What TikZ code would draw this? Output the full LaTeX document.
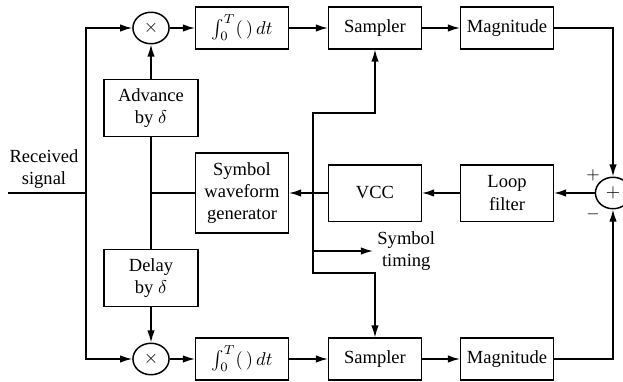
\documentclass[tikz,border=0pt]{standalone}
\usepackage{fontspec}
\setmainfont{Liberation Serif}
\usepackage{amsmath}
\usetikzlibrary{arrows.meta,shapes.geometric,positioning,calc}
\tikzset{
  blk/.style={draw, line width=0.8pt, align=center, minimum width=50pt, minimum height=30.5pt, inner sep=1pt},
  mult/.style={draw, ellipse, line width=0.8pt, minimum width=19.5pt, minimum height=17pt, inner sep=0pt},
  arr/.style={-{Latex[length=6.5pt,width=4pt]}},
  wire/.style={line width=0.8pt}
}

\begin{document}
\begin{tikzpicture}[x=0.54pt, y=-0.54pt, every node/.style={font=\normalsize}]
  \useasboundingbox (0,0) rectangle (623,381);
  % top branch
  \node[mult] (m1) at (151,28) {$\times$};
  \node[blk, minimum height=22.5pt] (int1) at (242,28) {$\int_0^T(\,)\,dt$};
  \node[blk, minimum height=22.5pt] (s1) at (375,28) {Sampler};
  \node[blk, minimum height=22.5pt] (mag1) at (507,28) {Magnitude};
  % bottom branch
  \node[mult] (m2) at (151,359) {$\times$};
  \node[blk, minimum height=22.5pt] (int2) at (242,359) {$\int_0^T(\,)\,dt$};
  \node[blk, minimum height=22.5pt] (s2) at (375,359) {Sampler};
  \node[blk, minimum height=22.5pt] (mag2) at (507,359) {Magnitude};
  % middle
  \node[blk, minimum width=51pt, minimum height=31pt] (adv) at (151,108) {Advance\\by $\delta$};
  \node[blk, minimum width=51pt, minimum height=31pt] (del) at (151,278) {Delay\\by $\delta$};
  \node[blk, minimum height=43pt] (swg) at (242,193) {Symbol\\waveform\\generator};
  \node[blk] (vcc) at (375,193) {VCC};
  \node[blk] (lf) at (507,193) {Loop\\filter};
  \node[mult, minimum width=19pt, minimum height=17pt] (sum) at (613,193) {$+$};
  \node (pl) at (593,175) {\small $+$};
  \node (mi) at (593,214) {\small $-$};
  \node[align=center] (rs) at (44,169) {Received\\signal};
  \coordinate (in) at (8,193);
  \coordinate (rx) at (86,193);
  \coordinate (tj) at (313,193);

  \draw[wire] (in) -- (rx);
  \draw[wire,arr] (rx) |- (m1);
  \draw[wire,arr] (rx) |- (m2);
  \draw[wire,arr] (adv) -- (m1);
  \draw[wire,arr] (del) -- (m2);
  \draw[wire] (adv) -- (del);
  \draw[wire] (swg) -- (swg -| adv);
  \draw[wire,arr] (m1) -- (int1);
  \draw[wire,arr] (int1) -- (s1);
  \draw[wire,arr] (s1) -- (mag1);
  \draw[wire,arr] (m2) -- (int2);
  \draw[wire,arr] (int2) -- (s2);
  \draw[wire,arr] (s2) -- (mag2);
  \draw[wire,arr] (mag1) -| (sum);
  \draw[wire,arr] (mag2) -| (sum);
  \draw[wire,arr] (sum) -- (lf);
  \draw[wire,arr] (lf) -- (vcc);
  \draw[wire,arr] (vcc) -- (swg);
  % timing
  \draw[wire,arr] (tj) -- ++(0,-80) -| (s1);
  \draw[wire,arr] (tj) -- ++(0,80) -| (s2);
  \draw[wire,arr] ($(tj)+(0,58)$) -- ++(60,0) node[right, align=center, inner sep=2pt] (st) {Symbol\\timing};
\end{tikzpicture}
\end{document}
